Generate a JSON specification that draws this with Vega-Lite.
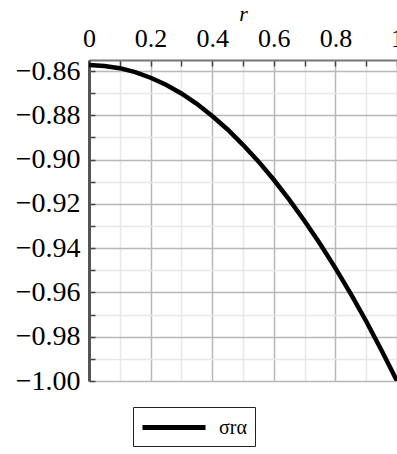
{
  "$schema": "https://vega.github.io/schema/vega-lite/v6.json",
  "width": 308,
  "height": 321,
  "autosize": "none",
  "padding": {"left": 89, "top": 60, "right": 0, "bottom": 73},
  "background": "white",
  "config": {"view": {"stroke": null}, "font": "Liberation Serif"},
  "data": {
    "values": [
      {"r": 0.0, "sigma": -0.8573, "series": "σrα"},
      {"r": 0.05, "sigma": -0.8577, "series": "σrα"},
      {"r": 0.1, "sigma": -0.8587, "series": "σrα"},
      {"r": 0.15, "sigma": -0.8605, "series": "σrα"},
      {"r": 0.2, "sigma": -0.863, "series": "σrα"},
      {"r": 0.25, "sigma": -0.8662, "series": "σrα"},
      {"r": 0.3, "sigma": -0.8701, "series": "σrα"},
      {"r": 0.35, "sigma": -0.8748, "series": "σrα"},
      {"r": 0.4, "sigma": -0.8803, "series": "σrα"},
      {"r": 0.45, "sigma": -0.8864, "series": "σrα"},
      {"r": 0.5, "sigma": -0.8933, "series": "σrα"},
      {"r": 0.55, "sigma": -0.9008, "series": "σrα"},
      {"r": 0.6, "sigma": -0.9091, "series": "σrα"},
      {"r": 0.65, "sigma": -0.9181, "series": "σrα"},
      {"r": 0.7, "sigma": -0.9277, "series": "σrα"},
      {"r": 0.75, "sigma": -0.938, "series": "σrα"},
      {"r": 0.8, "sigma": -0.949, "series": "σrα"},
      {"r": 0.85, "sigma": -0.9606, "series": "σrα"},
      {"r": 0.9, "sigma": -0.973, "series": "σrα"},
      {"r": 0.95, "sigma": -0.9862, "series": "σrα"},
      {"r": 1.0, "sigma": -1.0, "series": "σrα"}
    ]
  },
  "mark": {"type": "line", "strokeWidth": 4.5, "clip": true},
  "encoding": {
    "x": {
      "field": "r",
      "type": "quantitative",
      "scale": {"domain": [0, 1], "nice": false, "zero": false},
      "axis": {
        "orient": "top",
        "title": "r",
        "titleFont": "Liberation Serif",
        "titleFontStyle": "italic",
        "titleFontWeight": "normal",
        "titleFontSize": 22,
        "titleColor": "black",
        "titlePadding": 0,
        "values": [0, 0.1, 0.2, 0.3, 0.4, 0.5, 0.6, 0.7, 0.8, 0.9, 1],
        "labelExpr": "round(datum.value*10)%2==0 ? format(datum.value,'~g') : ''",
        "labelFont": "Liberation Serif",
        "labelFontSize": 26,
        "labelColor": "black",
        "labelPadding": 15,
        "labelFlush": false,
        "labelOverlap": false,
        "tickSize": -6,
        "tickColor": "#444",
        "tickWidth": 1.5,
        "domainColor": "#777",
        "domainWidth": 2,
        "grid": true,
        "gridColor": {"condition": {"test": "round(datum.value*10)%2==0", "value": "#b8b8b8"}, "value": "#e8e8e8"},
        "gridWidth": 1.5
      }
    },
    "y": {
      "field": "sigma",
      "type": "quantitative",
      "scale": {"domain": [-1.0, -0.855], "nice": false, "zero": false},
      "axis": {
        "orient": "left",
        "title": null,
        "values": [-1.0, -0.99, -0.98, -0.97, -0.96, -0.95, -0.94, -0.93, -0.92, -0.91, -0.9, -0.89, -0.88, -0.87, -0.86],
        "labelExpr": "abs(round(datum.value*100))%2==0 ? format(datum.value,'.2f') : ''",
        "labelFont": "Liberation Serif",
        "labelFontSize": 28,
        "labelColor": "black",
        "labelPadding": 15,
        "labelOverlap": false,
        "tickSize": -6,
        "tickColor": "#444",
        "tickWidth": 1.5,
        "domainColor": "#555",
        "domainWidth": 3,
        "grid": true,
        "gridColor": {"condition": {"test": "abs(round(datum.value*100))%2==0", "value": "#b8b8b8"}, "value": "#e8e8e8"},
        "gridWidth": 1.5
      }
    },
    "color": {
      "field": "series",
      "type": "nominal",
      "scale": {"range": ["black"]},
      "legend": {
        "orient": "none",
        "legendX": 44,
        "legendY": 347,
        "title": null,
        "symbolType": "M-1.1,0H5.2",
        "symbolSize": 400,
        "symbolStrokeWidth": 5,
        "labelFont": "Liberation Serif",
        "labelFontSize": 20,
        "labelColor": "black",
        "labelOffset": 53,
        "padding": 8,
        "strokeColor": "#222"
      }
    }
  }
}
